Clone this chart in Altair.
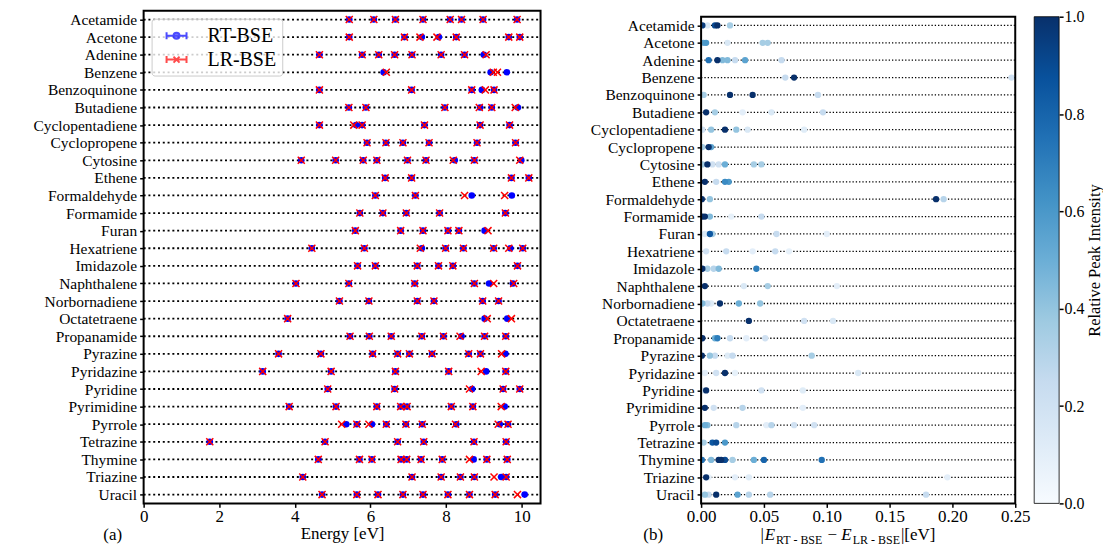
import altair as alt
import pandas as pd

MOLECULES = ["Acetamide", "Acetone", "Adenine", "Benzene", "Benzoquinone", "Butadiene",
             "Cyclopentadiene", "Cyclopropene", "Cytosine", "Ethene", "Formaldehyde",
             "Formamide", "Furan", "Hexatriene", "Imidazole", "Naphthalene", "Norbornadiene",
             "Octatetraene", "Propanamide", "Pyrazine", "Pyridazine", "Pyridine",
             "Pyrimidine", "Pyrrole", "Tetrazine", "Thymine", "Triazine", "Uracil"]

RT_ENERGIES = [
    [5.44, 6.09, 6.66, 7.39, 8.11, 8.41, 8.98, 9.88],
    [5.44, 6.90, 7.36, 7.81, 8.27, 9.66, 9.95],
    [4.65, 5.78, 6.22, 6.64, 7.10, 7.87, 8.49, 9.00],
    [6.35, 9.18, 9.61],
    [4.65, 7.09, 8.68, 8.95, 9.27],
    [5.43, 5.88, 7.97, 8.90, 9.21, 9.90],
    [4.65, 5.62, 5.78, 7.43, 8.90, 9.68],
    [5.91, 6.41, 6.86, 7.55, 8.82, 9.84],
    [4.17, 5.08, 5.81, 6.17, 6.98, 7.47, 8.23, 8.75, 9.99],
    [6.39, 7.09, 9.73, 10.19],
    [6.13, 7.19, 8.68, 9.74],
    [5.72, 6.33, 6.95, 7.83, 9.57],
    [5.60, 6.80, 7.39, 8.05, 8.34, 9.02],
    [4.45, 5.84, 7.36, 7.99, 8.46, 9.26, 9.70, 10.03],
    [5.66, 6.13, 7.24, 7.80, 8.18, 9.89],
    [4.03, 5.43, 7.17, 8.75, 9.14, 9.77],
    [5.18, 5.96, 7.24, 7.68, 8.97, 9.39],
    [3.81, 9.02, 9.62],
    [5.46, 5.97, 6.55, 7.36, 7.93, 8.41, 9.02, 9.58],
    [3.57, 4.69, 6.06, 6.72, 7.03, 7.63, 8.60, 8.91, 9.57],
    [3.15, 4.96, 6.66, 8.07, 9.06, 9.58],
    [4.87, 6.64, 8.69, 9.51, 9.95],
    [3.85, 5.09, 6.17, 6.80, 6.97, 8.14, 8.71, 9.55],
    [5.36, 5.64, 6.04, 6.42, 6.94, 7.37, 8.27, 9.42, 9.64],
    [1.75, 4.80, 6.72, 7.41, 8.74, 9.59],
    [4.62, 5.71, 6.04, 6.81, 6.96, 7.34, 7.90, 8.73, 9.08, 9.62],
    [4.21, 7.10, 7.87, 8.38, 8.75, 9.46, 9.59],
    [4.72, 5.64, 6.20, 6.86, 7.39, 8.05, 8.62, 9.30, 10.08],
]

LR_ENERGIES = [
    [5.44, 6.09, 6.66, 7.39, 8.11, 8.41, 8.98, 9.88],
    [5.44, 6.90, 7.31, 7.76, 8.27, 9.66, 9.95],
    [4.65, 5.78, 6.22, 6.64, 7.10, 7.87, 8.49, 9.06],
    [6.42, 9.25, 9.36],
    [4.65, 7.09, 8.68, 9.04, 9.27],
    [5.43, 5.88, 7.97, 8.88, 9.21, 9.83],
    [4.65, 5.56, 5.78, 7.43, 8.90, 9.68],
    [5.91, 6.41, 6.86, 7.55, 8.82, 9.84],
    [4.17, 5.08, 5.81, 6.17, 6.98, 7.47, 8.19, 8.75, 9.95],
    [6.39, 7.09, 9.73, 10.19],
    [6.13, 7.19, 8.49, 9.55],
    [5.72, 6.33, 6.95, 7.83, 9.57],
    [5.60, 6.80, 7.39, 8.05, 8.34, 9.11],
    [4.45, 5.84, 7.32, 7.99, 8.46, 9.26, 9.66, 10.03],
    [5.66, 6.13, 7.24, 7.80, 8.18, 9.89],
    [4.03, 5.43, 7.17, 8.75, 9.26, 9.79],
    [5.18, 5.96, 7.24, 7.68, 8.97, 9.39],
    [3.81, 9.09, 9.73],
    [5.46, 5.97, 6.55, 7.36, 7.93, 8.37, 9.02, 9.58],
    [3.57, 4.69, 6.06, 6.72, 7.03, 7.63, 8.60, 8.91, 9.47],
    [3.15, 4.96, 6.66, 8.07, 8.93, 9.58],
    [4.87, 6.64, 8.62, 9.51, 9.95],
    [3.85, 5.09, 6.17, 6.80, 6.97, 8.14, 8.71, 9.46],
    [5.24, 5.64, 5.96, 6.42, 6.94, 7.37, 8.25, 9.38, 9.64],
    [1.75, 4.80, 6.72, 7.41, 8.74, 9.59],
    [4.62, 5.71, 6.04, 6.81, 6.96, 7.34, 7.90, 8.62, 9.08, 9.62],
    [4.21, 7.10, 7.87, 8.38, 8.75, 9.27, 9.59],
    [4.72, 5.64, 6.20, 6.86, 7.39, 8.05, 8.62, 9.30, 9.89],
]

DIFFS = [
    [0.001, 0.005, 0.011, 0.013, 0.023],
    [0.002, 0.004, 0.021, 0.049, 0.053],
    [0.006, 0.013, 0.017, 0.021, 0.027, 0.035, 0.064],
    [0.067, 0.074, 0.247],
    [0.002, 0.023, 0.041, 0.093],
    [0.004, 0.011, 0.033, 0.056, 0.097],
    [0.001, 0.008, 0.019, 0.028, 0.037, 0.082],
    [0.001, 0.006, 0.008],
    [0.001, 0.005, 0.009, 0.014, 0.019, 0.042, 0.048],
    [0.003, 0.012, 0.019, 0.022],
    [0.0006, 0.007, 0.187, 0.193],
    [0.001, 0.003, 0.007, 0.024, 0.048],
    [0.003, 0.007, 0.009, 0.060, 0.100],
    [0.004, 0.020, 0.041, 0.059, 0.070],
    [0.001, 0.005, 0.010, 0.014, 0.044],
    [0.003, 0.034, 0.053, 0.108],
    [0.001, 0.005, 0.008, 0.015, 0.030, 0.047],
    [0.038, 0.082, 0.105],
    [0.001, 0.011, 0.013, 0.023, 0.036, 0.051],
    [0.0006, 0.007, 0.011, 0.021, 0.025, 0.088],
    [0.003, 0.012, 0.019, 0.027, 0.125],
    [0.001, 0.004, 0.048, 0.081],
    [0.003, 0.010, 0.033, 0.081],
    [0.003, 0.005, 0.028, 0.052, 0.056, 0.074, 0.090],
    [0.002, 0.009, 0.012, 0.019],
    [0.0006, 0.008, 0.014, 0.016, 0.019, 0.025, 0.042, 0.050, 0.096],
    [0.004, 0.006, 0.027, 0.038, 0.196],
    [0.003, 0.006, 0.012, 0.029, 0.038, 0.055, 0.179],
]

INTENSITIES = [
    [0.95, 0.15, 0.90, 1.00, 0.35],
    [0.55, 0.60, 0.15, 0.35, 0.35],
    [0.75, 1.00, 0.45, 0.45, 0.25, 0.55, 0.25],
    [0.25, 1.00, 0.20],
    [0.35, 1.00, 1.00, 0.25],
    [1.00, 0.35, 0.10, 0.15, 0.25],
    [0.20, 0.40, 1.00, 0.40, 0.15, 0.12],
    [0.35, 1.00, 0.55],
    [0.35, 1.00, 0.20, 0.20, 0.50, 0.35, 0.35],
    [1.00, 0.25, 0.65, 0.60],
    [1.00, 0.40, 1.00, 0.30],
    [1.00, 1.00, 0.45, 0.08, 0.25],
    [0.15, 0.85, 0.35, 0.25, 0.10],
    [0.20, 0.25, 0.10, 0.25, 0.08],
    [1.00, 0.35, 0.30, 0.45, 0.70],
    [1.00, 0.15, 0.35, 0.10],
    [0.45, 0.25, 0.12, 1.00, 0.50, 0.40],
    [1.00, 0.20, 0.15],
    [1.00, 0.50, 0.70, 0.25, 0.10, 0.20],
    [1.00, 0.40, 0.25, 0.12, 0.25, 0.35],
    [0.10, 0.20, 1.00, 0.08, 0.15],
    [0.15, 1.00, 0.20, 0.12],
    [1.00, 0.20, 0.30, 0.10],
    [0.50, 0.45, 0.30, 0.10, 0.30, 0.20, 0.20],
    [0.35, 0.85, 0.90, 0.60],
    [0.75, 0.45, 1.00, 1.00, 0.90, 0.35, 0.50, 0.80, 0.75],
    [1.00, 0.08, 0.10, 0.12, 0.10],
    [0.40, 0.25, 1.00, 0.55, 0.30, 0.30, 0.25],
]

METHODS = ["RT-BSE", "LR-BSE"]
X_TICKS_LEFT = [0, 2, 4, 6, 8, 10]
X_TICKS_RIGHT = [0.0, 0.05, 0.10, 0.15, 0.20, 0.25]
CBAR_TICKS = [0.0, 0.2, 0.4, 0.6, 0.8, 1.0]
BLUES = ["#f7fbff", "#deebf7", "#c6dbef", "#9ecae1", "#6baed6",
         "#4292c6", "#2171b5", "#08519c", "#08306b"]

# ---------------- data frames ----------------
mol_df = pd.DataFrame({"mol": MOLECULES})
rt_df = pd.DataFrame([{"mol": m, "E": e} for m, es in zip(MOLECULES, RT_ENERGIES) for e in es])
lr_df = pd.DataFrame([{"mol": m, "E": e} for m, es in zip(MOLECULES, LR_ENERGIES) for e in es])
diff_df = pd.DataFrame([{"mol": m, "d": d, "I": i}
                        for m, ds, its in zip(MOLECULES, DIFFS, INTENSITIES)
                        for d, i in zip(ds, its)]).sort_values("I")
leg_df = pd.DataFrame({"method": METHODS, "mol": [MOLECULES[0]] * 2,
                       "E": [RT_ENERGIES[0][0]] * 2})

# ---------------- style ----------------
FONT = "Liberation Serif"
FS = 17        # axis titles / panel tags
FS_Y = 15.5    # molecule labels
FS_X = 17      # x tick labels
W1, W2, H = 398, 315, 494
TOP2 = 6
BASE = 531     # baseline of bottom texts (relative to plot top)

tick_common = dict(labelColor="black", tickColor="black", tickWidth=1.5, tickSize=4,
                   domain=False, grid=False, labelFlush=False, labelFont=FONT)

RT_PATH = ("M-1,0H1M-1,-0.35V0.35M1,-0.35V0.35"
           "M-0.3,0A0.3,0.3,0,1,0,0.3,0A0.3,0.3,0,1,0,-0.3,0Z")
LR_PATH = ("M-1,0H1M-1,-0.35V0.35M1,-0.35V0.35"
           "M-0.3,-0.3L0.3,0.3M-0.3,0.3L0.3,-0.3")
X_PATH = "M-1,-1L1,1M-1,1L1,-1"

# ---------------- left panel ----------------
y_left = alt.Y("mol:N", sort=MOLECULES, scale=alt.Scale(type="point", padding=0.5),
               axis=alt.Axis(title=None, labelPadding=3, labelFontSize=FS_Y, **tick_common))
x_scale_l = alt.Scale(domain=[0, 10.5], nice=False, zero=False)
x_left = alt.X("E:Q", scale=x_scale_l,
               axis=alt.Axis(values=X_TICKS_LEFT, format="d", title="Energy [eV]",
                             titleFont=FONT, titleFontSize=FS, titleFontWeight="normal",
                             titleColor="black", titlePadding=1, labelPadding=1,
                             labelFontSize=FS_X, **tick_common))

rules_l = alt.Chart(mol_df).mark_rule(strokeDash=[2, 2.8], strokeWidth=1.8, color="black").encode(
    y=y_left, x=alt.value(0), x2=alt.value(W1))

blue = alt.Chart(rt_df).mark_circle(size=44, color="#0000ff", opacity=1).encode(x=x_left, y=y_left)
red = alt.Chart(lr_df).mark_point(shape=X_PATH, size=50, stroke="#ff0000", strokeWidth=1.5,
                                  filled=False, opacity=1).encode(x=x_left, y=y_left)

leg = alt.Legend(title=None, orient="top-left", offset=8, padding=6,
                 fillColor="rgba(255,255,255,0.8)", strokeColor="#cccccc", cornerRadius=3,
                 labelFont=FONT, labelFontSize=20, labelColor="black", labelOffset=20,
                 symbolSize=400, symbolStrokeWidth=2, symbolOffset=8, rowPadding=3)
mscale_c = alt.Scale(domain=METHODS, range=["#0000ff", "#ff0000"])
mscale_s = alt.Scale(domain=METHODS, range=[RT_PATH, LR_PATH])
leg_layer = alt.Chart(leg_df).mark_point(size=0, strokeWidth=2).encode(
    x=x_left, y=y_left,
    fill=alt.Fill("method:N", scale=mscale_c, legend=leg),
    stroke=alt.Stroke("method:N", scale=mscale_c, legend=leg),
    shape=alt.Shape("method:N", scale=mscale_s, legend=leg))

frame_l = alt.Chart(mol_df.head(1)).mark_rect(fillOpacity=0, stroke="black", strokeWidth=2).encode(
    x=alt.value(0), x2=alt.value(W1), y=alt.value(0), y2=alt.value(H))

text_a = alt.Chart(pd.DataFrame({"t": ["(a)"]})).mark_text(
    font=FONT, fontSize=FS, align="center", baseline="alphabetic", color="black").encode(
    text="t:N", x=alt.value(-31), y=alt.value(BASE))

left = alt.layer(rules_l, blue, red, leg_layer, frame_l, text_a).properties(width=W1, height=H)

# ---------------- right panel ----------------
step = (H - TOP2) / len(MOLECULES)
y_right = alt.Y("mol:N", sort=MOLECULES,
                scale=alt.Scale(type="point", padding=0,
                                range=[TOP2 + step / 2, H - step / 2]),
                axis=alt.Axis(title=None, labelPadding=3, labelFontSize=FS_Y, **tick_common))
x_right = alt.X("d:Q", scale=alt.Scale(domain=[0, 0.25], nice=False, zero=False),
                axis=alt.Axis(values=X_TICKS_RIGHT, format=".2f", title=None,
                              labelPadding=1, labelFontSize=FS_X, **tick_common))

rules_r = alt.Chart(mol_df).mark_rule(strokeDash=[1.3, 2], strokeWidth=1.3, color="black").encode(
    y=y_right, x=alt.value(0), x2=alt.value(W2))

scatter = alt.Chart(diff_df).mark_circle(size=40, opacity=1, clip=True).encode(
    x=x_right, y=y_right,
    color=alt.Color("I:Q", scale=alt.Scale(domain=[i / 8 for i in range(9)], range=BLUES),
                    legend=None))

frame_r = alt.Chart(mol_df.head(1)).mark_rect(fillOpacity=0, stroke="black", strokeWidth=2).encode(
    x=alt.value(0), x2=alt.value(W2), y=alt.value(TOP2), y2=alt.value(H))

SUB = 12
pieces = [("|", 59.6, FS, "normal", BASE), ("E", 63.7, FS, "italic", BASE),
          ("RT - BSE", 75.2, SUB, "normal", BASE + 4), ("\u2212", 126.8, FS, "normal", BASE),
          ("E", 140.6, FS, "italic", BASE), ("LR - BSE", 152.1, SUB, "normal", BASE + 4),
          ("|[eV]", 200.4, FS, "normal", BASE), ("(b)", -48, FS, "normal", BASE)]
text_layers = []
for txt, px, fs, st, py in pieces:
    text_layers.append(
        alt.Chart(pd.DataFrame({"t": [txt]})).mark_text(
            font=FONT, fontSize=fs, fontStyle=st, align="center" if txt == "(b)" else "left",
            baseline="alphabetic", color="black").encode(
            text="t:N", x=alt.value(px), y=alt.value(py)))

gradient = alt.LinearGradient(
    gradient="linear",
    stops=[alt.GradientStop(color=c, offset=i / 8) for i, c in enumerate(BLUES)],
    x1=0, x2=0, y1=1, y2=0)
cbar = alt.Chart(pd.DataFrame({"lo": [0.0], "hi": [1.0]})).mark_rect(
    fill=gradient, stroke="black", strokeWidth=0.8).encode(
    x=alt.value(W2 + 19), x2=alt.value(W2 + 44),
    y=alt.Y("lo:Q", scale=alt.Scale(domain=[0, 1], range=[H, TOP2], nice=False, zero=False),
            axis=alt.Axis(orient="right", offset=44, values=CBAR_TICKS, format=".1f",
                          title="Relative Peak Intensity", titleAngle=270, titleBaseline="top",
                          titleFont=FONT, titleFontSize=16.5, titleFontWeight="normal",
                          titleColor="black", titlePadding=2, labelPadding=1,
                          labelFontSize=16, **tick_common)),
    y2="hi:Q")

right_main = alt.layer(rules_r, scatter, frame_r, *text_layers)
right = alt.layer(right_main, cbar).resolve_scale(y="independent").properties(width=W2, height=H)

chart = alt.hconcat(left, right, spacing=161, bounds="flush").configure_view(
    strokeWidth=0).properties(padding={"left": 24, "top": 0, "right": 0, "bottom": 0})

chart.save("out.html", embed_options={"renderer": "svg", "actions": False})
